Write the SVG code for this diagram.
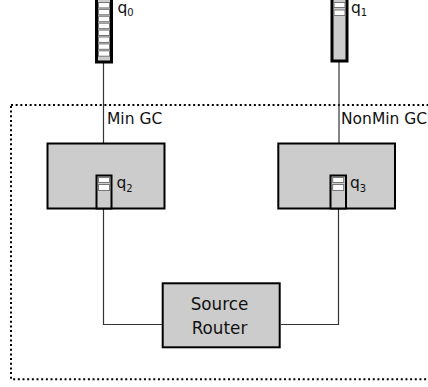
<svg xmlns="http://www.w3.org/2000/svg" width="428" height="387" viewBox="0 0 428 387">
<style>
text{font-family:"DejaVu Sans","Liberation Sans",sans-serif;fill:#111}
.lbl{font-size:15.5px}
.sub{font-size:10px}
.box{fill:#cccccc;stroke:#000;stroke-width:2}
.q{fill:#cccccc;stroke:#000;stroke-width:3}
.qi{fill:#cccccc;stroke:#000;stroke-width:2}
.cell{fill:#fff;stroke:#777;stroke-width:1}
.wire{fill:none;stroke:#333;stroke-width:1.2}
.frame{fill:none;stroke:#000;stroke-width:2;stroke-dasharray:2 2.67}
.big{font-size:16.8px}
</style>
<rect class="frame" x="11" y="105" width="430" height="274.3"/>
<g id="connectors">
<line class="wire" x1="103.5" y1="62" x2="103.5" y2="143"/>
<line class="wire" x1="339" y1="62" x2="339" y2="143"/>
<polyline class="wire" points="103.5,209 103.5,324.5 162,324.5"/>
<polyline class="wire" points="281,324.5 338.5,324.5 338.5,209"/>
</g>
<g id="q0">
<rect class="q" x="96.5" y="-5" width="15" height="67"/>
<rect class="cell" x="98.5" y="2.5" width="11" height="5.4"/>
<rect class="cell" x="98.5" y="9.4" width="11" height="5.4"/>
<rect class="cell" x="98.5" y="16.3" width="11" height="5.4"/>
<rect class="cell" x="98.5" y="23.2" width="11" height="5.4"/>
<rect class="cell" x="98.5" y="30.1" width="11" height="5.4"/>
<rect class="cell" x="98.5" y="37" width="11" height="5.4"/>
<rect class="cell" x="98.5" y="43.9" width="11" height="5.4"/>
<rect class="cell" x="98.5" y="50.8" width="11" height="5.4"/>
<text class="lbl" x="117.5" y="12.5">q<tspan class="sub" dy="3">0</tspan></text>
</g>
<g id="q1">
<rect class="q" x="332" y="-5" width="15" height="66"/>
<rect class="cell" x="334" y="2.5" width="11" height="5"/>
<rect class="cell" x="334" y="10" width="11" height="5.5"/>
<text class="lbl" x="351" y="12.5">q<tspan class="sub" dy="3">1</tspan></text>
</g>
<g id="minGC">
<rect class="box" x="47.5" y="143.5" width="117" height="65"/>
<rect class="qi" x="96.5" y="175.5" width="15" height="33"/>
<rect class="cell" x="98.5" y="177.5" width="11" height="5"/>
<rect class="cell" x="98.5" y="184.5" width="11" height="6"/>
<text class="lbl" x="116.5" y="187.5">q<tspan class="sub" dy="4">2</tspan></text>
<text class="lbl" x="107" y="124.3">Min GC</text>
</g>
<g id="nonMinGC">
<rect class="box" x="278.3" y="143.5" width="116.7" height="65"/>
<rect class="qi" x="330.5" y="175.5" width="15.5" height="33"/>
<rect class="cell" x="332.7" y="177.5" width="11" height="5"/>
<rect class="cell" x="332.7" y="184.5" width="11" height="6"/>
<text class="lbl" x="350" y="187.5">q<tspan class="sub" dy="4">3</tspan></text>
<text class="lbl" x="341" y="124.3">NonMin GC</text>
</g>
<g id="sourceRouter">
<rect class="box" x="162.7" y="283.3" width="117" height="64"/>
<text class="big" x="219.5" y="310" text-anchor="middle">Source</text>
<text class="big" x="219.5" y="334" text-anchor="middle">Router</text>
</g>
</svg>
